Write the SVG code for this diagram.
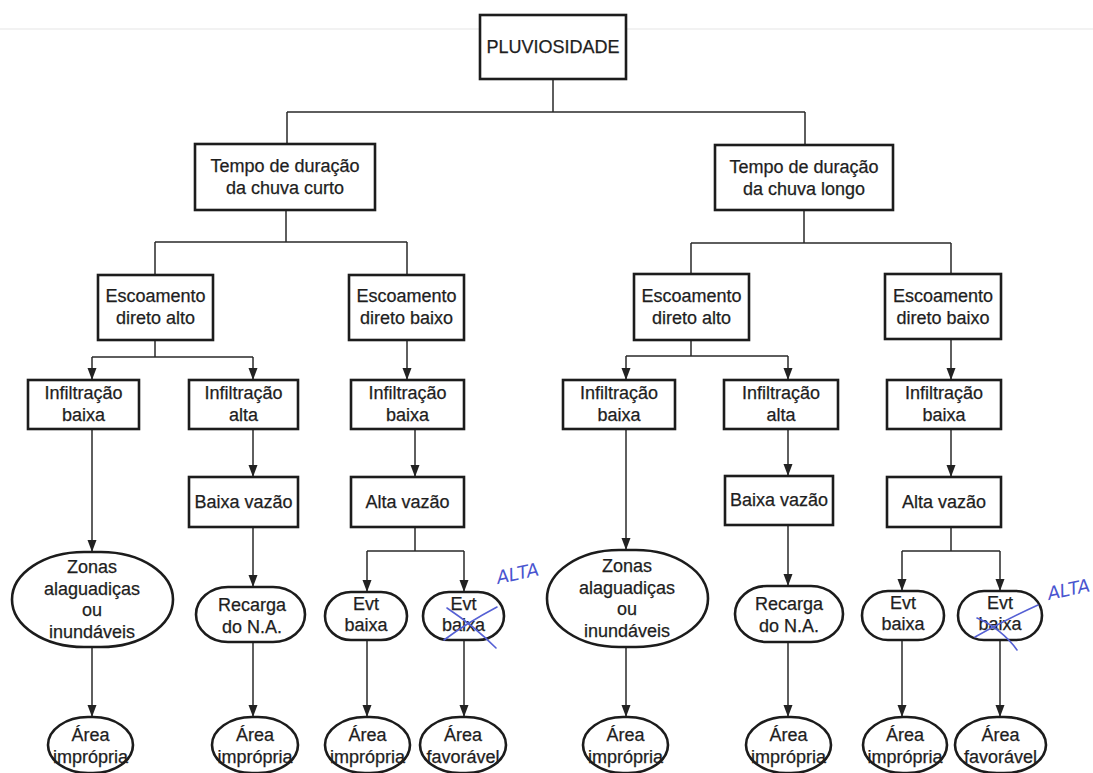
<svg xmlns="http://www.w3.org/2000/svg" width="1093" height="773" viewBox="0 0 1093 773">
  <defs>
    <marker id="arrow" markerUnits="userSpaceOnUse" markerWidth="12" markerHeight="10" refX="12" refY="4.5" orient="auto">
      <path d="M0,0 L12,4.5 L0,9 z" fill="#222"/>
    </marker>
    <style>
      .box { fill: #fff; stroke: #1c1c1c; stroke-width: 2.6; }
      .oval { fill: #fff; stroke: #1c1c1c; stroke-width: 2.6; }
      .wire { fill: none; stroke: #2a2a2a; stroke-width: 1.5; }
      .arr { fill: none; stroke: #2a2a2a; stroke-width: 1.5; marker-end: url(#arrow); }
      text { font-family: "Liberation Sans", Arial, sans-serif; font-size: 18px; fill: #1e1e1e; text-anchor: middle; stroke: #1e1e1e; stroke-width: 0.25; }
      .note { font-family: "DejaVu Sans", sans-serif; font-style: italic; fill: #4a55d0; stroke: none; text-anchor: start; }
      .pen { fill: none; stroke: #5560d4; stroke-width: 1.6; stroke-linecap: round; }
    </style>
  </defs>

  <rect width="1093" height="773" fill="#fff"/>
  <!-- faint rule across the page -->
  <line x1="0" y1="29" x2="1093" y2="29" stroke="#eeeeee" stroke-width="1.5"/>

  <!-- connectors -->
  <g id="connectors">
    <path class="wire" d="M553,79 V112 M287,112 H805 M287,112 V144 M805,112 V145"/>
    <path class="wire" d="M286,210 V242 M155,242 H407 M155,242 V275 M407,242 V275"/>
    <path class="wire" d="M804,210 V243 M691,243 H951 M691,243 V274 M951,243 V274"/>

    <path class="wire" d="M155,340 V357 M92,357 H253"/>
    <path class="arr" d="M92,357 V380"/>
    <path class="arr" d="M253,357 V380"/>
    <path class="arr" d="M92,429 V552"/>
    <path class="arr" d="M92,647 V717"/>
    <path class="arr" d="M253,429 V477"/>
    <path class="arr" d="M253,527 V587"/>
    <path class="arr" d="M253,642 V717"/>

    <path class="arr" d="M407,340 V380"/>
    <path class="arr" d="M415,429 V477"/>
    <path class="wire" d="M415,527 V551 M367,551 H464"/>
    <path class="arr" d="M367,551 V592"/>
    <path class="arr" d="M464,551 V592"/>
    <path class="arr" d="M367,640 V717"/>
    <path class="arr" d="M464,640 V717"/>

    <path class="wire" d="M691,340 V356 M626,356 H788"/>
    <path class="arr" d="M626,356 V380"/>
    <path class="arr" d="M788,356 V380"/>
    <path class="arr" d="M626,429 V550"/>
    <path class="arr" d="M626,647 V717"/>
    <path class="arr" d="M788,429 V476"/>
    <path class="arr" d="M788,525 V586"/>
    <path class="arr" d="M788,642 V717"/>

    <path class="arr" d="M951,339 V380"/>
    <path class="arr" d="M951,429 V477"/>
    <path class="wire" d="M951,527 V551 M902,551 H1000"/>
    <path class="arr" d="M902,551 V591"/>
    <path class="arr" d="M1000,551 V591"/>
    <path class="arr" d="M902,640 V717"/>
    <path class="arr" d="M1000,640 V717"/>
  </g>

  <!-- root -->
  <g id="pluviosidade">
    <rect class="box" x="480" y="15" width="146" height="64"/>
    <text x="553" y="53">PLUVIOSIDADE</text>
  </g>

  <!-- rain duration -->
  <g id="tempo-curto">
    <rect class="box" x="195" y="144" width="180" height="66"/>
    <text x="285" y="172">Tempo de duração</text>
    <text x="285" y="194">da chuva curto</text>
  </g>
  <g id="tempo-longo">
    <rect class="box" x="715" y="145" width="178" height="65"/>
    <text x="804" y="173">Tempo de duração</text>
    <text x="804" y="195">da chuva longo</text>
  </g>

  <!-- runoff -->
  <g id="esc-alto-curto">
    <rect class="box" x="98" y="275" width="115" height="65"/>
    <text x="155.5" y="302">Escoamento</text>
    <text x="155.5" y="324">direto alto</text>
  </g>
  <g id="esc-baixo-curto">
    <rect class="box" x="349" y="275" width="115" height="65"/>
    <text x="406.5" y="302">Escoamento</text>
    <text x="406.5" y="324">direto baixo</text>
  </g>
  <g id="esc-alto-longo">
    <rect class="box" x="634" y="274" width="115" height="66"/>
    <text x="691.5" y="302">Escoamento</text>
    <text x="691.5" y="324">direto alto</text>
  </g>
  <g id="esc-baixo-longo">
    <rect class="box" x="885" y="274" width="116" height="65"/>
    <text x="943" y="302">Escoamento</text>
    <text x="943" y="324">direto baixo</text>
  </g>

  <!-- infiltration -->
  <g id="inf-baixa-1">
    <rect class="box" x="28" y="380" width="111" height="49"/>
    <text x="83.5" y="399">Infiltração</text>
    <text x="83.5" y="421">baixa</text>
  </g>
  <g id="inf-alta-1">
    <rect class="box" x="189" y="380" width="109" height="49"/>
    <text x="243.5" y="399">Infiltração</text>
    <text x="243.5" y="421">alta</text>
  </g>
  <g id="inf-baixa-2">
    <rect class="box" x="351" y="380" width="113" height="49"/>
    <text x="407.5" y="399">Infiltração</text>
    <text x="407.5" y="421">baixa</text>
  </g>
  <g id="inf-baixa-3">
    <rect class="box" x="563" y="380" width="112" height="49"/>
    <text x="619" y="399">Infiltração</text>
    <text x="619" y="421">baixa</text>
  </g>
  <g id="inf-alta-2">
    <rect class="box" x="724" y="380" width="114" height="49"/>
    <text x="781" y="399">Infiltração</text>
    <text x="781" y="421">alta</text>
  </g>
  <g id="inf-baixa-4">
    <rect class="box" x="887" y="380" width="114" height="49"/>
    <text x="944" y="399">Infiltração</text>
    <text x="944" y="421">baixa</text>
  </g>

  <!-- discharge -->
  <g id="baixa-vazao-1">
    <rect class="box" x="189" y="477" width="109" height="50"/>
    <text x="243.5" y="508">Baixa vazão</text>
  </g>
  <g id="alta-vazao-1">
    <rect class="box" x="351" y="477" width="113" height="50"/>
    <text x="407.5" y="508">Alta vazão</text>
  </g>
  <g id="baixa-vazao-2">
    <rect class="box" x="725" y="476" width="108" height="49"/>
    <text x="779" y="506">Baixa vazão</text>
  </g>
  <g id="alta-vazao-2">
    <rect class="box" x="887" y="477" width="114" height="50"/>
    <text x="944" y="508">Alta vazão</text>
  </g>

  <!-- outcomes -->
  <g id="zonas-1">
    <rect class="oval" x="12" y="552" width="161" height="95" rx="72" ry="47.5"/>
    <text x="92" y="573">Zonas</text>
    <text x="92" y="595">alaguadiças</text>
    <text x="92" y="616">ou</text>
    <text x="92" y="638">inundáveis</text>
  </g>
  <g id="recarga-1">
    <rect class="oval" x="196" y="587" width="109" height="55" rx="32" ry="27.5"/>
    <text x="252" y="611">Recarga</text>
    <text x="252" y="633">do N.A.</text>
  </g>
  <g id="evt-1">
    <rect class="oval" x="325" y="592" width="82" height="48" rx="26" ry="24"/>
    <text x="366" y="610">Evt</text>
    <text x="366" y="631">baixa</text>
  </g>
  <g id="evt-2">
    <rect class="oval" x="423" y="592" width="81" height="48" rx="26" ry="24"/>
    <text x="463.5" y="610">Evt</text>
    <text x="463.5" y="631">baixa</text>
  </g>
  <g id="zonas-2">
    <rect class="oval" x="547" y="550" width="161" height="97" rx="72" ry="48.5"/>
    <text x="627" y="572">Zonas</text>
    <text x="627" y="594">alaguadiças</text>
    <text x="627" y="615">ou</text>
    <text x="627" y="637">inundáveis</text>
  </g>
  <g id="recarga-2">
    <rect class="oval" x="735" y="586" width="108" height="56" rx="32" ry="28"/>
    <text x="789" y="610">Recarga</text>
    <text x="789" y="632">do N.A.</text>
  </g>
  <g id="evt-3">
    <rect class="oval" x="862" y="591" width="82" height="49" rx="26" ry="24.5"/>
    <text x="903" y="609">Evt</text>
    <text x="903" y="630">baixa</text>
  </g>
  <g id="evt-4">
    <rect class="oval" x="958" y="591" width="84" height="49" rx="26" ry="24.5"/>
    <text x="1000" y="609">Evt</text>
    <text x="1000" y="630">baixa</text>
  </g>

  <!-- final areas -->
  <g id="area-1">
    <rect class="oval" x="48" y="717" width="85" height="56" rx="40" ry="28"/>
    <text x="90.5" y="741">Área</text>
    <text x="90.5" y="763">imprópria</text>
  </g>
  <g id="area-2">
    <rect class="oval" x="212" y="717" width="86" height="56" rx="40" ry="28"/>
    <text x="255" y="741">Área</text>
    <text x="255" y="763">imprópria</text>
  </g>
  <g id="area-3">
    <rect class="oval" x="325" y="717" width="85" height="56" rx="40" ry="28"/>
    <text x="367.5" y="741">Área</text>
    <text x="367.5" y="763">imprópria</text>
  </g>
  <g id="area-4">
    <rect class="oval" x="420" y="717" width="86" height="56" rx="40" ry="28"/>
    <text x="463" y="741">Área</text>
    <text x="463" y="763">favorável</text>
  </g>
  <g id="area-5">
    <rect class="oval" x="583" y="717" width="85" height="56" rx="40" ry="28"/>
    <text x="625.5" y="741">Área</text>
    <text x="625.5" y="763">imprópria</text>
  </g>
  <g id="area-6">
    <rect class="oval" x="746" y="717" width="85" height="56" rx="40" ry="28"/>
    <text x="788.5" y="741">Área</text>
    <text x="788.5" y="763">imprópria</text>
  </g>
  <g id="area-7">
    <rect class="oval" x="863" y="717" width="84" height="56" rx="40" ry="28"/>
    <text x="905" y="741">Área</text>
    <text x="905" y="763">imprópria</text>
  </g>
  <g id="area-8">
    <rect class="oval" x="955" y="717" width="91" height="56" rx="42" ry="28"/>
    <text x="1000.5" y="741">Área</text>
    <text x="1000.5" y="763">favorável</text>
  </g>

  <!-- handwritten corrections in blue pen -->
  <g id="pen-notes">
    <path class="pen" d="M447,608 C465,620 482,634 496,648"/>
    <path class="pen" d="M444,640 C460,628 480,616 497,607"/>
    <text class="note" x="498" y="584" font-size="11" transform="rotate(-12 498 584)">ALTA</text>
    <path class="pen" d="M975,637 C995,626 1018,614 1038,605"/>
    <path class="pen" d="M977,618 C992,624 1008,637 1017,650"/>
    <text class="note" x="1049" y="600" font-size="13" transform="rotate(-12 1049 600)">ALTA</text>
  </g>
</svg>
